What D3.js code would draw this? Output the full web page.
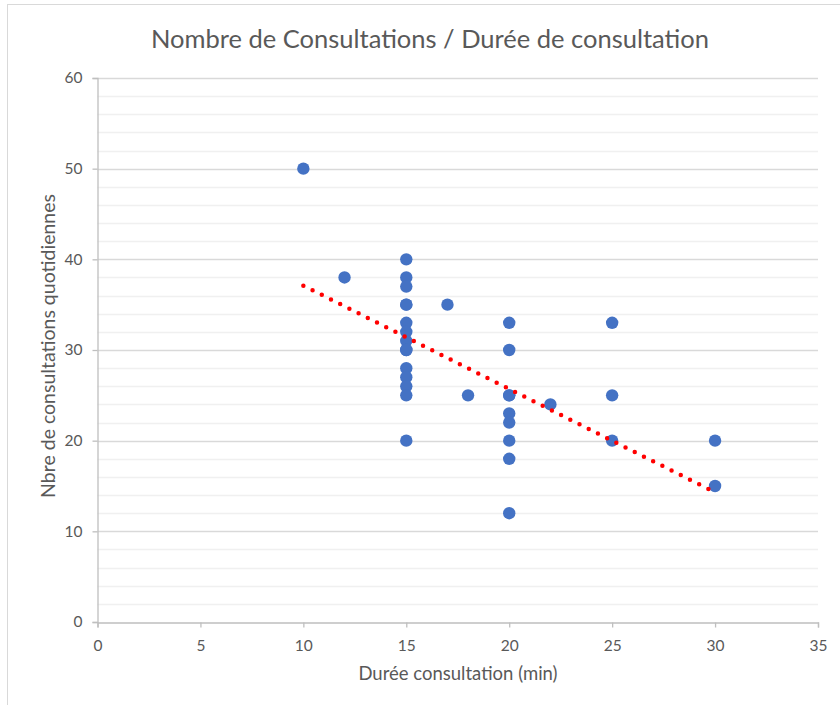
<!DOCTYPE html>
<html lang="fr">
<head>
<meta charset="UTF-8">
<title>Nombre de Consultations / Durée de consultation</title>
<script src="https://d3js.org/d3.v7.min.js"></script>
<style>
  body { margin: 0; background: #fff; }
  text { font-family: Lato, "Open Sans", sans-serif; fill: #595959; }
</style>
</head>
<body>
<svg width="840" height="705"></svg>
<script>
// duration (min) of each observation and daily consultations
const durations = [10, 12, 15, 15, 15, 15, 15, 15, 15, 15, 15, 15, 15, 15, 15, 15, 15, 17, 18,
                   20, 20, 20, 20, 20, 20, 20, 20, 20, 22, 25, 25, 25, 30, 30];
const consultations = [50, 38, 40, 38, 37, 35, 35, 33, 32, 31, 30, 30, 28, 27, 26, 25, 20, 35, 25,
                       33, 30, 25, 25, 23, 22, 20, 18, 12, 24, 33, 25, 20, 20, 15];
// trendline
const trendX = [10, 30];
const trendY = [37.1, 14.3];

const xTicks = [0, 5, 10, 15, 20, 25, 30, 35];
const yTicks = [0, 10, 20, 30, 40, 50, 60];

const svg = d3.select("svg");
const width = 840, height = 705;
const margin = { left: 97.5, right: 22, top: 78, bottom: 83 };

// frame of the chart (runs past the window on the right and bottom)
svg.append("rect")
  .attr("x", 7.5).attr("y", 4.5)
  .attr("width", 900).attr("height", 800)
  .attr("fill", "none").attr("stroke", "#d9d9d9");

const x = d3.scaleLinear().domain([0, 35]).range([margin.left, width - margin.right]);
const y = d3.scaleLinear().domain([0, 60]).range([height - margin.bottom, margin.top]);

// minor gridlines every 2
svg.append("g").selectAll("line")
  .data(d3.range(2, 60, 2).filter(v => v % 10 !== 0))
  .join("line")
  .attr("x1", x(0)).attr("x2", x(35))
  .attr("y1", d => Math.round(y(d)) + 0.5).attr("y2", d => Math.round(y(d)) + 0.5)
  .attr("stroke", "#f0f0f0").attr("stroke-width", 1.3);

// major gridlines
svg.append("g").selectAll("line")
  .data(yTicks.filter(v => v > 0))
  .join("line")
  .attr("x1", x(0)).attr("x2", x(35))
  .attr("y1", d => Math.round(y(d)) + 0.5).attr("y2", d => Math.round(y(d)) + 0.5)
  .attr("stroke", "#d9d9d9").attr("stroke-width", 1.3);

// axes
const yAxis = svg.append("g")
  .attr("transform", `translate(${x(0)},0)`)
  .call(d3.axisLeft(y).tickValues(yTicks).tickSize(5).tickPadding(10));
const xAxis = svg.append("g")
  .attr("transform", `translate(0,${Math.round(y(0)) + 0.5})`)
  .call(d3.axisBottom(x).tickValues(xTicks).tickSize(5).tickPadding(12));

[yAxis, xAxis].forEach(a => {
  a.select(".domain").attr("stroke", "#bfbfbf").attr("stroke-width", 1.3);
  a.selectAll(".tick line").attr("stroke", "#bfbfbf").attr("stroke-width", 1.3);
  a.selectAll(".tick text")
    .attr("fill", "#595959")
    .style("font-family", "Lato, 'Open Sans', sans-serif")
    .style("font-size", "15.5px");
});

// points
svg.append("g").selectAll("circle")
  .data(durations.map((d, i) => [d, consultations[i]]))
  .join("circle")
  .attr("cx", d => x(d[0]))
  .attr("cy", d => y(d[1]))
  .attr("r", 6.2)
  .attr("fill", "#4472c4");

// dotted linear trendline
svg.append("path")
  .datum(trendX.map((d, i) => [d, trendY[i]]))
  .attr("d", d3.line().x(d => x(d[0])).y(d => y(d[1])))
  .attr("fill", "none")
  .attr("stroke", "#ff0000")
  .attr("stroke-width", 4.5)
  .attr("stroke-linecap", "round")
  .attr("stroke-dasharray", "0,10.3");

// titles
svg.append("text")
  .attr("x", 430).attr("y", 48)
  .attr("text-anchor", "middle")
  .style("font-size", "25.5px")
  .text("Nombre de Consultations / Durée de consultation");

svg.append("text")
  .attr("x", 458).attr("y", 680)
  .attr("text-anchor", "middle")
  .style("font-size", "18.5px")
  .text("Durée consultation (min)");

svg.append("text")
  .attr("transform", "translate(55,346) rotate(-90)")
  .attr("text-anchor", "middle")
  .style("font-size", "19.5px")
  .text("Nbre de consultations quotidiennes");
</script>
</body>
</html>
